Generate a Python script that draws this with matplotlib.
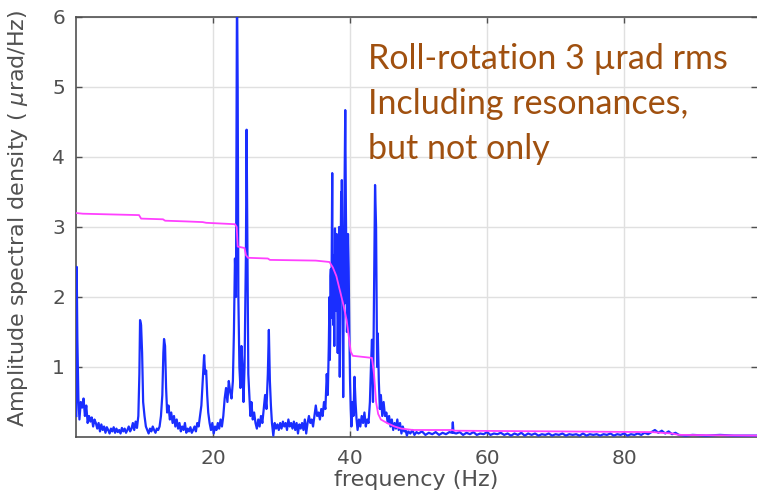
import matplotlib.pyplot as plt

# amplitude spectral density as (frequency Hz, urad/Hz)
asd_low = [
    (0.05, 0.3), (0.1, 2.43), (0.2, 1.4), (0.35, 0.55), (0.5, 0.25), (0.7, 0.5),
    (0.9, 0.42), (1.1, 0.55), (1.3, 0.3), (1.5, 0.45), (1.7, 0.2), (1.9, 0.3),
    (2.1, 0.22), (2.3, 0.28), (2.5, 0.15), (2.7, 0.25), (2.9, 0.2), (3.1, 0.12),
    (3.3, 0.2), (3.5, 0.08), (3.7, 0.18), (3.9, 0.1), (4.1, 0.15), (4.3, 0.06),
    (4.5, 0.14), (4.7, 0.1), (4.9, 0.05), (5.1, 0.12), (5.3, 0.08), (5.5, 0.14),
    (5.7, 0.06), (5.9, 0.12), (6.1, 0.07), (6.3, 0.1), (6.5, 0.05), (6.7, 0.13),
    (6.9, 0.08), (7.1, 0.12), (7.3, 0.06), (7.5, 0.1), (7.7, 0.15), (7.9, 0.08),
    (8.1, 0.12), (8.3, 0.2), (8.5, 0.1), (8.7, 0.22), (8.9, 0.13), (9.1, 0.3),
    (9.25, 0.9), (9.35, 1.67), (9.5, 1.6), (9.65, 1.2), (9.8, 0.5), (10.0, 0.3),
    (10.2, 0.15), (10.4, 0.1), (10.6, 0.05), (10.8, 0.12), (11.0, 0.08), (11.2, 0.15),
    (11.4, 0.1), (11.6, 0.06), (11.8, 0.12), (12.0, 0.1), (12.2, 0.15), (12.4, 0.3),
    (12.6, 0.6), (12.75, 1.2), (12.85, 1.4), (13.0, 1.3), (13.15, 0.7), (13.3, 0.35),
    (13.5, 0.45), (13.7, 0.25), (13.9, 0.35), (14.1, 0.2), (14.3, 0.3), (14.5, 0.15),
    (14.7, 0.25), (14.9, 0.12), (15.1, 0.2), (15.3, 0.08), (15.5, 0.15), (15.7, 0.1),
    (15.9, 0.2), (16.1, 0.06), (16.3, 0.12), (16.5, 0.08), (16.7, 0.14), (16.9, 0.06),
    (17.1, 0.1), (17.3, 0.15), (17.5, 0.08), (17.7, 0.2), (17.9, 0.15), (18.1, 0.3),
    (18.3, 0.45), (18.5, 0.8), (18.7, 1.17), (18.85, 0.9), (19.0, 0.95), (19.15, 0.6),
    (19.3, 0.35), (19.5, 0.2), (19.7, 0.1), (19.9, 0.2), (20.1, 0.05), (20.3, 0.15),
    (20.5, 0.1), (20.7, 0.2), (20.9, 0.12), (21.1, 0.25), (21.3, 0.15), (21.5, 0.3),
    (21.7, 0.55), (21.9, 0.7), (22.1, 0.5), (22.3, 0.8), (22.5, 0.65), (22.7, 0.55),
    (22.9, 0.8),
]
asd_mid = [
    (23.05, 1.5), (23.2, 2.55), (23.35, 2.0), (23.5, 6.5), (23.6, 5.0), (23.7, 2.0),
    (23.85, 1.0), (24.0, 0.7), (24.15, 1.3), (24.3, 1.0), (24.45, 0.5), (24.6, 1.0),
    (24.8, 2.6), (24.9, 4.39), (25.0, 3.0), (25.15, 0.9), (25.3, 0.6), (25.45, 0.3),
    (25.6, 0.5), (25.8, 0.25), (26.0, 0.35), (26.2, 0.2), (26.4, 0.12), (26.6, 0.25),
    (26.8, 0.15), (27.0, 0.3), (27.2, 0.2), (27.4, 0.4), (27.6, 0.6), (27.8, 0.4),
    (28.0, 0.9), (28.15, 1.53), (28.3, 0.8), (28.45, 0.45), (28.6, 0.2), (28.8, 0.02),
    (29.0, 0.2), (29.2, 0.12), (29.4, 0.18), (29.6, 0.1), (29.8, 0.2), (30.0, 0.12),
    (30.2, 0.22), (30.4, 0.15), (30.6, 0.2), (30.8, 0.1), (31.0, 0.25), (31.2, 0.15),
    (31.4, 0.2), (31.6, 0.12), (31.8, 0.22), (32.0, 0.1), (32.2, 0.2), (32.4, 0.05),
    (32.6, 0.18), (32.8, 0.12), (33.0, 0.2), (33.2, 0.1), (33.4, 0.25), (33.6, 0.05),
    (33.8, 0.2), (34.0, 0.3), (34.2, 0.2), (34.4, 0.25), (34.6, 0.15), (34.8, 0.3),
    (35.0, 0.45), (35.2, 0.3), (35.4, 0.35), (35.6, 0.25), (35.8, 0.4), (36.0, 0.3),
    (36.2, 0.5), (36.4, 0.4), (36.6, 0.9), (36.75, 0.6), (36.9, 1.3), (37.0, 2.0),
    (37.05, 1.1), (37.1, 1.4), (37.15, 2.3), (37.2, 2.4), (37.25, 1.7), (37.3, 2.2),
    (37.4, 3.77), (37.45, 1.9), (37.5, 2.6), (37.55, 1.6), (37.6, 2.3), (37.7, 1.3),
    (37.8, 2.98), (37.85, 2.0), (37.9, 2.5), (38.0, 1.8), (38.05, 2.9), (38.1, 2.5),
    (38.2, 1.2), (38.3, 2.0), (38.35, 1.4), (38.4, 3.0), (38.5, 0.86), (38.6, 2.2),
    (38.7, 3.5), (38.75, 2.4), (38.8, 3.67), (38.9, 2.5), (38.95, 1.6), (39.0, 0.57),
    (39.1, 2.5), (39.15, 1.9), (39.2, 3.6), (39.3, 4.67), (39.4, 3.2), (39.5, 2.2),
    (39.55, 1.5), (39.7, 2.9), (39.8, 2.4), (39.9, 1.5), (40.0, 0.8), (40.1, 0.4),
    (40.2, 0.15), (40.35, 0.5), (40.5, 0.3), (40.65, 0.86), (40.8, 0.5), (40.95, 0.25),
    (41.1, 0.1), (41.3, 0.25), (41.5, 0.15), (41.7, 0.3), (41.9, 0.2), (42.1, 0.35),
    (42.3, 0.15), (42.5, 0.25), (42.7, 0.2), (42.9, 0.5), (43.05, 1.0), (43.2, 1.39),
    (43.35, 0.5), (43.5, 2.0), (43.65, 3.6), (43.8, 3.0), (43.95, 1.0), (44.05, 1.48),
    (44.2, 0.8), (44.35, 0.4), (44.5, 0.6), (44.7, 0.3), (44.9, 0.5), (45.1, 0.3),
    (45.3, 0.35), (45.5, 0.2), (45.7, 0.3), (45.9, 0.15), (46.1, 0.25), (46.3, 0.1),
    (46.5, 0.2), (46.7, 0.12), (46.9, 0.25), (47.1, 0.1), (47.3, 0.2), (47.5, 0.05),
    (47.7, 0.15), (47.9, 0.08), (48.1, 0.1), (48.3, 0.02), (48.5, 0.08), (48.8, 0.05),
    (49.1, 0.1), (49.4, 0.03), (49.7, 0.07),
]
asd_high = [
    (50.0, 0.05), (50.5, 0.08), (51.0, 0.03), (51.5, 0.06), (52.0, 0.04), (52.5, 0.07),
    (53.0, 0.03), (53.5, 0.06), (54.0, 0.04), (54.5, 0.07), (54.9, 0.06), (55.0, 0.21),
    (55.1, 0.06), (55.5, 0.05), (56.0, 0.07), (56.5, 0.03), (57.0, 0.06), (57.5, 0.04),
    (58.0, 0.07), (58.5, 0.03), (59.0, 0.05), (59.5, 0.04), (60.0, 0.07), (60.5, 0.03),
    (61.0, 0.05), (61.5, 0.04), (62.0, 0.06), (62.5, 0.03), (63.0, 0.05), (63.5, 0.02),
    (64.0, 0.05), (64.5, 0.03), (65.0, 0.06), (65.5, 0.02), (66.0, 0.05), (66.5, 0.03),
    (67.0, 0.05), (67.5, 0.02), (68.0, 0.04), (68.5, 0.03), (69.0, 0.05), (69.5, 0.02),
    (70.0, 0.04), (70.5, 0.03), (71.0, 0.05), (71.5, 0.02), (72.0, 0.04), (72.5, 0.03),
    (73.0, 0.04), (73.5, 0.02), (74.0, 0.05), (74.5, 0.02), (75.0, 0.04), (75.5, 0.03),
    (76.0, 0.04), (76.5, 0.02), (77.0, 0.04), (77.5, 0.03), (78.0, 0.05), (78.5, 0.02),
    (79.0, 0.04), (79.5, 0.03), (80.0, 0.05), (80.5, 0.02), (81.0, 0.04), (81.5, 0.03),
    (82.0, 0.05), (82.5, 0.03), (83.0, 0.06), (83.5, 0.04), (84.0, 0.07), (84.5, 0.1),
    (85.0, 0.06), (85.5, 0.09), (86.0, 0.05), (86.5, 0.08), (87.0, 0.04), (87.5, 0.06),
    (88.0, 0.03), (89.0, 0.02), (90.0, 0.03), (92.0, 0.02), (94.0, 0.03), (96.0, 0.02),
    (99.5, 0.02),
]

# cumulative rms (integrated from high to low frequency)
rms_freq = [0, 1, 5, 9.2, 9.5, 12.7, 13.0, 16, 18.5, 19, 23.2, 23.45, 23.6, 24.6,
            24.8, 25.1, 28.0, 28.3, 35, 37.0, 37.5, 38.0, 38.5, 39.0, 39.5, 39.8,
            40.1, 40.4, 43.2, 43.5, 43.8, 44.1, 44.5, 45.4, 46.5, 47.5, 49.2, 55,
            55.2, 70, 84, 87, 88, 99.5]
rms_val = [3.2, 3.19, 3.18, 3.17, 3.12, 3.11, 3.09, 3.08, 3.07, 3.06, 3.04, 3.0, 2.72,
           2.7, 2.6, 2.56, 2.55, 2.53, 2.52, 2.5, 2.42, 2.3, 2.1, 1.9, 1.67, 1.45,
           1.22, 1.16, 1.13, 0.9, 0.5, 0.33, 0.25, 0.2, 0.15, 0.12, 0.1, 0.1,
           0.09, 0.08, 0.07, 0.05, 0.03, 0.02]

x_ticks = [20, 40, 60, 80]
y_ticks = [1, 2, 3, 4, 5, 6]
note_lines = ['Roll-rotation 3 \u00b5rad rms', 'Including resonances,', 'but not only']

asd = asd_low + asd_mid + asd_high
f_asd = [p[0] for p in asd]
v_asd = [p[1] for p in asd]

gray = '#505050'
fig = plt.figure(figsize=(7.57, 4.93), dpi=100)
ax = fig.add_axes([76 / 757, 56 / 493, 681 / 757, 420 / 493])

ax.plot(f_asd, v_asd, color='#1a2eff', lw=1.6, zorder=3)
ax.plot(rms_freq, rms_val, color='#ff40ff', lw=1.3, zorder=4)

ax.set_xlim(0, 99.4)
ax.set_ylim(0, 6)
ax.set_xticks(x_ticks)
ax.set_yticks(y_ticks)
ax.grid(True, color='#e0e0e0', lw=1.0, zorder=0)
ax.set_axisbelow(True)
ax.tick_params(direction='in', length=4, width=1, color=gray, labelcolor=gray,
               labelsize=14.5, top=True, right=True)
ax.tick_params(axis='x', pad=9)
ax.tick_params(axis='y', pad=8)
for side in ['left', 'top', 'bottom']:
    ax.spines[side].set_color(gray)
    ax.spines[side].set_linewidth(1.2)
ax.spines['right'].set_visible(False)

ax.set_xlabel('frequency (Hz)', fontsize=16, color=gray, labelpad=1)
ax.set_ylabel(r'Amplitude spectral density ( $\mu$rad/Hz)', fontsize=16, color=gray)
ax.yaxis.set_label_coords(-0.068, 0.52)

for i, line in enumerate(note_lines):
    fig.text(368 / 757, 1 - (69 + 45 * i) / 493, line, fontsize=24.5, family='Lato',
             color='#a0500f', va='baseline', ha='left')

fig.savefig('out.png', dpi=100)
